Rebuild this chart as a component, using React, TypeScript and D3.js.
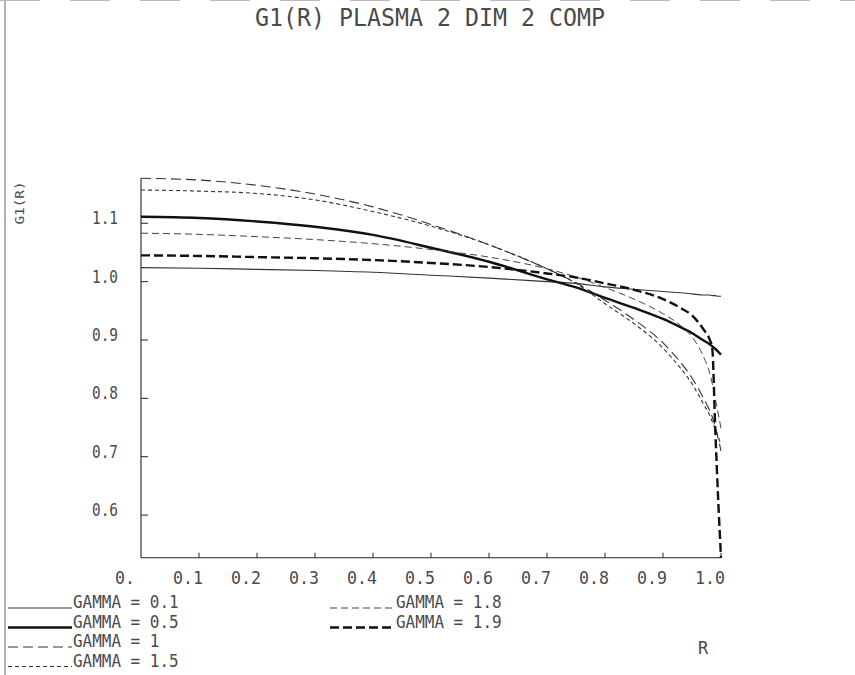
import * as d3 from 'd3';

// radius grid (finer near the wall where the curves fall off)
const R = [0, 0.1, 0.2, 0.3, 0.4, 0.5, 0.6, 0.7, 0.75, 0.8, 0.85, 0.9, 0.93, 0.95, 0.97, 0.98, 0.985, 0.99, 0.995, 1.0];

const G_01 = [1.024, 1.023, 1.021, 1.019, 1.016, 1.011, 1.006, 1.0, 0.997, 0.991, 0.987, 0.983, 0.981, 0.979, 0.977, 0.977, 0.976, 0.976, 0.975, 0.975];
const G_05 = [1.111, 1.109, 1.103, 1.094, 1.08, 1.058, 1.034, 1.004, 0.99, 0.972, 0.955, 0.936, 0.922, 0.912, 0.899, 0.893, 0.889, 0.885, 0.88, 0.875];
const G_1 = [1.177, 1.174, 1.165, 1.15, 1.128, 1.098, 1.063, 1.022, 0.998, 0.968, 0.935, 0.895, 0.862, 0.835, 0.8, 0.78, 0.768, 0.752, 0.732, 0.71];
const G_15 = [1.157, 1.155, 1.151, 1.14, 1.12, 1.095, 1.063, 1.022, 0.997, 0.962, 0.928, 0.886, 0.852, 0.825, 0.79, 0.772, 0.76, 0.748, 0.735, 0.72];
const G_18 = [1.083, 1.081, 1.077, 1.072, 1.065, 1.055, 1.042, 1.022, 1.008, 0.99, 0.97, 0.945, 0.925, 0.905, 0.871, 0.845, 0.825, 0.8, 0.775, 0.749];
const G_19 = [1.045, 1.044, 1.042, 1.04, 1.037, 1.032, 1.025, 1.014, 1.007, 0.997, 0.986, 0.97, 0.955, 0.942, 0.918, 0.902, 0.885, 0.75, 0.63, 0.527];

const GAMMAS = ['0.1', '0.5', '1', '1.5', '1.8', '1.9'];
const SERIES = [G_01, G_05, G_1, G_15, G_18, G_19];

const X_TICKS = [0, 0.1, 0.2, 0.3, 0.4, 0.5, 0.6, 0.7, 0.8, 0.9, 1.0];
const X_LABELS = ['0.', '0.1', '0.2', '0.3', '0.4', '0.5', '0.6', '0.7', '0.8', '0.9', '1.0'];
const Y_TICKS = [0.6, 0.7, 0.8, 0.9, 1.0, 1.1];
const Y_LABELS = ['0.6', '0.7', '0.8', '0.9', '1.0', '1.1'];

const W = 855;
const H = 675;
const FONT = '"DejaVu Sans Mono", monospace';
const TXT = '#4a4a4a';

// line style per gamma
const STYLE: Record<string, { w: number; dash: string; c: string }> = {
  '0.1': { w: 1.1, dash: '', c: '#333' },
  '0.5': { w: 2.4, dash: '', c: '#111' },
  '1': { w: 1.1, dash: '10,5', c: '#333' },
  '1.5': { w: 1.1, dash: '4,3', c: '#333' },
  '1.8': { w: 1.0, dash: '7,4', c: '#444' },
  '1.9': { w: 2.4, dash: '9,4', c: '#111' },
};

export default function App() {
  const yMin = d3.min(SERIES, (s) => d3.min(s)) as number;
  const yMax = d3.max(SERIES, (s) => d3.max(s)) as number;

  const x = d3.scaleLinear().domain([0, 1]).range([141, 721]);
  const y = d3.scaleLinear().domain([yMin, yMax]).range([557.7, 178.3]);

  const line = d3
    .line<number>()
    .x((_, i) => x(R[i]))
    .y((d) => y(d))
    .curve(d3.curveMonotoneX);

  const legendPos = [
    [8, 72, 608],
    [8, 72, 627.5],
    [8, 72, 647],
    [8, 72, 666.5],
    [330, 395, 608],
    [330, 395, 627.5],
  ];

  return (
    <svg
      width={W}
      height={H}
      style={{ position: 'fixed', left: 0, top: 0, background: '#fff' }}
      fontFamily={FONT}
    >
      <rect width={W} height={H} fill="#fff" />
      {/* scan border */}
      <line x1={5} x2={5} y1={0} y2={H} stroke="#666" strokeWidth={1} />
      <line x1={0} x2={W} y1={0.5} y2={0.5} stroke="#bbb" strokeWidth={1} strokeDasharray="40,30" />

      <text x={430} y={26} textAnchor="middle" fontSize={24} fill={TXT} textLength={350} lengthAdjust="spacingAndGlyphs">
        G1(R) PLASMA 2 DIM 2 COMP
      </text>

      {/* axes */}
      <line x1={x(0)} x2={x(0)} y1={y(yMax)} y2={y(yMin)} stroke="#222" strokeWidth={1.1} />
      <line x1={x(0)} x2={x(1)} y1={y(yMin)} y2={y(yMin)} stroke="#222" strokeWidth={1.1} />
      {Y_TICKS.map((t, i) => (
        <g key={'y' + i}>
          <line x1={x(0)} x2={x(0) + 7} y1={y(t)} y2={y(t)} stroke="#222" strokeWidth={1} />
          <text x={118} y={y(t) + 1} textAnchor="end" fontSize={17} fill={TXT} textLength={26} lengthAdjust="spacingAndGlyphs">
            {Y_LABELS[i]}
          </text>
        </g>
      ))}
      {X_TICKS.map((t, i) => (
        <g key={'x' + i}>
          {i > 0 && <line x1={x(t)} x2={x(t)} y1={y(yMin)} y2={y(yMin) - 5} stroke="#222" strokeWidth={1} />}
          <text x={x(t) - 26} y={584} fontSize={17} fill={TXT} textLength={X_LABELS[i].length * 10} lengthAdjust="spacingAndGlyphs">
            {X_LABELS[i]}
          </text>
        </g>
      ))}
      <text transform="translate(24,203) rotate(-90)" textAnchor="middle" fontSize={12} fill={TXT} textLength={43} lengthAdjust="spacingAndGlyphs">
        G1(R)
      </text>
      <text x={703} y={654} textAnchor="middle" fontSize={17} fill={TXT}>
        R
      </text>

      {/* curves */}
      {SERIES.map((s, i) => {
        const st = STYLE[GAMMAS[i]];
        return (
          <path
            key={'c' + i}
            d={line(s) || ''}
            fill="none"
            stroke={st.c}
            strokeWidth={st.w}
            strokeDasharray={st.dash || undefined}
          />
        );
      })}

      {/* legend */}
      {GAMMAS.map((g, i) => {
        const st = STYLE[g];
        const [x0, x1, yy] = legendPos[i];
        const label = 'GAMMA = ' + g;
        return (
          <g key={'l' + i}>
            <line x1={x0} x2={x1} y1={yy} y2={yy} stroke={st.c} strokeWidth={st.w} strokeDasharray={st.dash || undefined} />
            <text x={x1 + 1} y={yy} fontSize={17} fill={TXT} textLength={label.length * 9.6} lengthAdjust="spacingAndGlyphs">
              {label}
            </text>
          </g>
        );
      })}
    </svg>
  );
}
